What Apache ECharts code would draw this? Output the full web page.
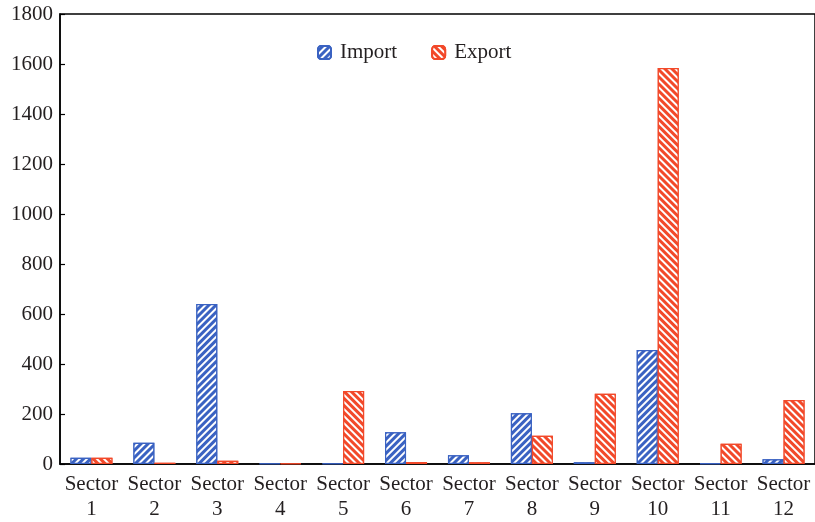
<!DOCTYPE html>
<html>
<head>
<meta charset="utf-8">
<script src="https://cdn.jsdelivr.net/npm/echarts@6/dist/echarts.min.js"></script>
<style>
  html, body { margin: 0; padding: 0; background: #fff; }
  #chart { width: 815px; height: 522px; }
</style>
</head>
<body>
<div id="chart"></div>
<script>
// Trade volume by sector
const categories = ['Sector\n1', 'Sector\n2', 'Sector\n3', 'Sector\n4', 'Sector\n5', 'Sector\n6',
                    'Sector\n7', 'Sector\n8', 'Sector\n9', 'Sector\n10', 'Sector\n11', 'Sector\n12'];
const importValues = [25, 85, 640, 2, 2, 127, 35, 203, 7, 456, 3, 19];
const exportValues = [25, 5, 13, 2, 292, 8, 7, 113, 281, 1584, 81, 256];
const yTicks = [0, 200, 400, 600, 800, 1000, 1200, 1400, 1600, 1800];

const FONT = 'Liberation Serif';
const TEXT = '#231f20';
const BLUE = '#3a62c2';
const RED = '#f2492a';

// white diagonal stripes laid over the solid bar colour
function hatch(rotation) {
  return {
    symbol: 'rect',
    color: 'rgba(255,255,255,1)',
    dashArrayX: [1, 0],
    dashArrayY: [2, 2.5],
    rotation: rotation,
    symbolSize: 1
  };
}

const chart = echarts.init(document.getElementById('chart'));
chart.setOption({
  animation: false,
  grid: {
    left: 60, top: 14, width: 757, height: 450,
    show: true, borderColor: '#000', borderWidth: 1.5, backgroundColor: 'transparent'
  },
  legend: {
    top: 37, left: 312,
    itemWidth: 13, itemHeight: 13, itemGap: 34,
    textStyle: { fontFamily: FONT, fontSize: 21, color: TEXT, padding: [0, 0, 0, 4] },
    data: ['Import', 'Export']
  },
  xAxis: {
    type: 'category',
    data: categories,
    axisLine: { lineStyle: { color: '#000', width: 1.5 } },
    axisTick: { show: false },
    axisLabel: { fontFamily: FONT, fontSize: 21, color: TEXT, lineHeight: 25, margin: 8, interval: 0 }
  },
  yAxis: {
    type: 'value',
    min: yTicks[0], max: yTicks[yTicks.length - 1], interval: 200,
    axisLine: { show: true, lineStyle: { color: '#000', width: 1.5 } },
    axisTick: { show: true, inside: true, length: 5, lineStyle: { color: '#000', width: 1.2 } },
    splitLine: { show: false },
    axisLabel: { fontFamily: FONT, fontSize: 21, color: TEXT, margin: 7, formatter: v => String(v) }
  },
  series: [
    {
      name: 'Import', type: 'bar', data: importValues,
      barWidth: 21, barGap: '0%',
      itemStyle: { color: BLUE, borderColor: BLUE, borderWidth: 1.2, decal: hatch(-Math.PI / 4) }
    },
    {
      name: 'Export', type: 'bar', data: exportValues,
      barWidth: 21, barGap: '0%',
      itemStyle: { color: RED, borderColor: RED, borderWidth: 1.2, decal: hatch(Math.PI / 4) }
    }
  ]
});
</script>
</body>
</html>
